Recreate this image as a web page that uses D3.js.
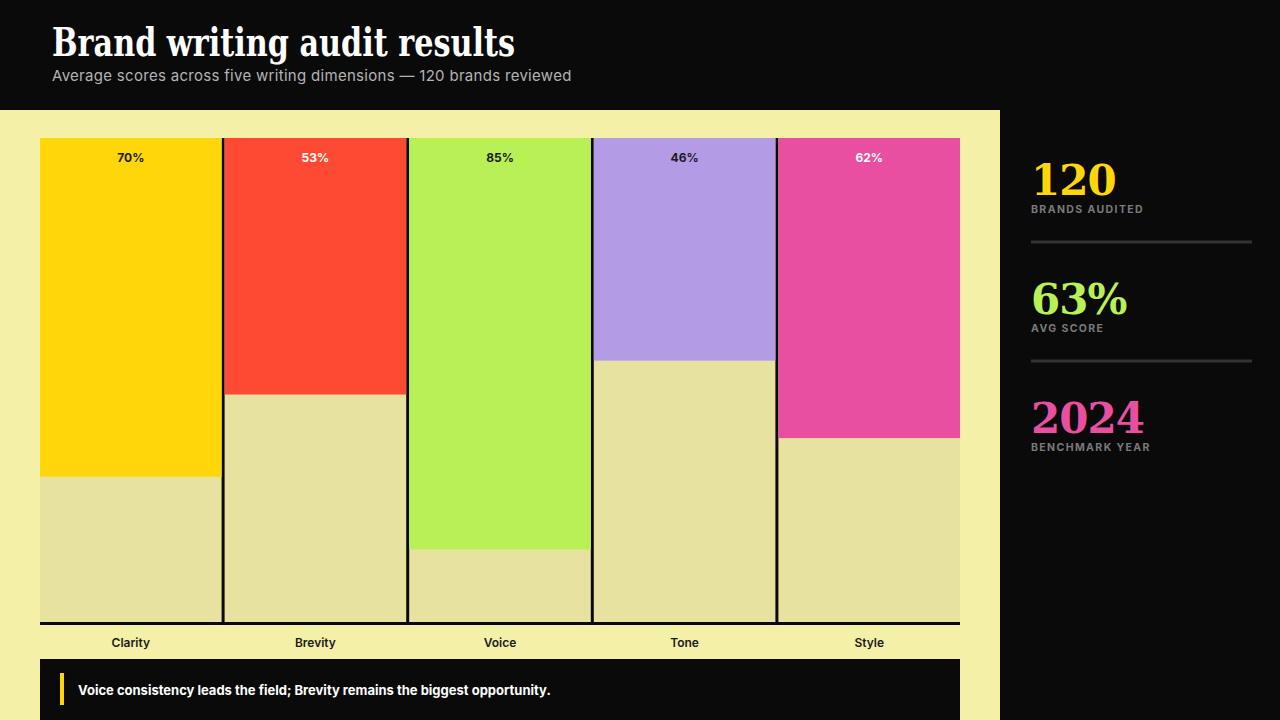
<!DOCTYPE html>
<html>
<head>
<meta charset="utf-8">
<script src="https://cdn.jsdelivr.net/npm/d3@7"></script>
<style>
  html, body { margin: 0; padding: 0; background: #0a0a0a; }
  svg { display: block; }
  .serif { font-family: "DejaVu Serif", "Liberation Serif", serif; font-weight: 700; }
  .sans { font-family: Inter, "Noto Sans", sans-serif; }
</style>
</head>
<body>
<svg id="chart" width="1280" height="720"></svg>
<script>
// Data
var DIMENSIONS = ["Clarity", "Brevity", "Voice", "Tone", "Style"];
var SCORES = [70, 53, 85, 46, 62];
var BAR_COLORS = ["#ffd60a", "#ff4a33", "#b8f055", "#b49be6", "#e84fa0"];
var LABEL_COLORS = ["#1a1a1a", "#ffffff", "#1a1a1a", "#1a1a1a", "#ffffff"];
var STAT_VALUES = ["120", "63%", "2024"];
var STAT_LABELS = ["BRANDS AUDITED", "AVG SCORE", "BENCHMARK YEAR"];
var STAT_COLORS = ["#ffd60a", "#b8f055", "#e84fa0"];

var WIDTH = 1280, HEIGHT = 720;
var PANEL_BG = "#f5f0a8", TRACK_BG = "#e8e2a0", INK = "#0a0a0a";
var PLOT_LEFT = 40, PLOT_RIGHT = 960, PLOT_TOP = 138, PLOT_BOTTOM = 622;
var COL_GAP = 3;

var svg = d3.select("#chart");

// Backgrounds
svg.append("rect").attr("x", 0).attr("y", 0).attr("width", WIDTH).attr("height", HEIGHT).attr("fill", INK);
svg.append("rect").attr("x", 0).attr("y", 110).attr("width", 1000).attr("height", HEIGHT - 110).attr("fill", PANEL_BG);

// Title
svg.append("text")
    .attr("class", "serif")
    .attr("x", 52).attr("y", 56)
    .attr("font-size", 40)
    .attr("textLength", 463)
    .attr("lengthAdjust", "spacingAndGlyphs")
    .attr("fill", "#ffffff")
    .text("Brand writing audit results");
svg.append("text")
    .attr("class", "sans")
    .attr("x", 52).attr("y", 81)
    .attr("font-size", 15)
    .attr("letter-spacing", 0.3)
    .attr("fill", "#b4b4b4")
    .text("Average scores across five writing dimensions \u2014 120 brands reviewed");

// Scales
var step = (PLOT_RIGHT - PLOT_LEFT + COL_GAP) / DIMENSIONS.length;
var xScale = d3.scaleBand()
    .domain(DIMENSIONS)
    .range([PLOT_LEFT, PLOT_RIGHT])
    .paddingInner(COL_GAP / step)
    .paddingOuter(0);
var hScale = d3.scaleLinear()
    .domain([0, 100])
    .range([0, PLOT_BOTTOM - PLOT_TOP]);

// Dark backing shows through the gaps as dividers
svg.append("rect")
    .attr("x", PLOT_LEFT).attr("y", PLOT_TOP)
    .attr("width", PLOT_RIGHT - PLOT_LEFT).attr("height", PLOT_BOTTOM - PLOT_TOP)
    .attr("fill", INK);

// Tracks
svg.selectAll(".track")
    .data(DIMENSIONS)
    .enter()
    .append("rect")
    .attr("class", "track")
    .attr("x", d => xScale(d))
    .attr("y", PLOT_TOP)
    .attr("width", xScale.bandwidth())
    .attr("height", PLOT_BOTTOM - PLOT_TOP)
    .attr("fill", TRACK_BG);

// Score fills hang from the top
svg.selectAll(".score")
    .data(SCORES)
    .enter()
    .append("rect")
    .attr("class", "score")
    .attr("x", (d, i) => xScale(DIMENSIONS[i]))
    .attr("y", PLOT_TOP)
    .attr("width", xScale.bandwidth())
    .attr("height", d => hScale(d))
    .attr("fill", (d, i) => BAR_COLORS[i]);

// Baseline
svg.append("rect")
    .attr("x", PLOT_LEFT).attr("y", PLOT_BOTTOM)
    .attr("width", PLOT_RIGHT - PLOT_LEFT).attr("height", 3)
    .attr("fill", INK);

// Value labels
svg.selectAll(".value-label")
    .data(SCORES)
    .enter()
    .append("text")
    .attr("class", "value-label sans")
    .attr("x", (d, i) => xScale(DIMENSIONS[i]) + xScale.bandwidth() / 2)
    .attr("y", PLOT_TOP + 24)
    .attr("text-anchor", "middle")
    .attr("font-size", 12)
    .attr("font-weight", 700)
    .attr("fill", (d, i) => LABEL_COLORS[i])
    .text(d => d + "%");

// Category labels
svg.selectAll(".cat-label")
    .data(DIMENSIONS)
    .enter()
    .append("text")
    .attr("class", "cat-label sans")
    .attr("x", d => xScale(d) + xScale.bandwidth() / 2)
    .attr("y", 647)
    .attr("text-anchor", "middle")
    .attr("font-size", 12)
    .attr("font-weight", 600)
    .attr("fill", "#1a1a1a")
    .text(d => d);

// Callout
svg.append("rect")
    .attr("x", PLOT_LEFT).attr("y", 659)
    .attr("width", PLOT_RIGHT - PLOT_LEFT).attr("height", HEIGHT - 659)
    .attr("fill", INK);
svg.append("rect")
    .attr("x", 60).attr("y", 673)
    .attr("width", 4).attr("height", 32)
    .attr("fill", "#ffd60a");
svg.append("text")
    .attr("class", "sans")
    .attr("x", 78).attr("y", 695)
    .attr("font-size", 13)
    .attr("font-weight", 700)
    .attr("fill", "#ffffff")
    .text("Voice consistency leads the field; Brevity remains the biggest opportunity.");

// Side stats
var STAT_TOP = [195, 314, 433];
STAT_VALUES.forEach(function (v, i) {
    svg.append("text")
        .attr("class", "serif")
        .attr("x", 1031).attr("y", STAT_TOP[i])
        .attr("font-size", 42)
        .attr("letter-spacing", -1)
        .attr("fill", STAT_COLORS[i])
        .text(v);
    svg.append("text")
        .attr("class", "sans")
        .attr("x", 1031).attr("y", STAT_TOP[i] + 18)
        .attr("font-size", 10.5)
        .attr("font-weight", 700)
        .attr("letter-spacing", 1.4)
        .attr("fill", "#7a7a7a")
        .text(STAT_LABELS[i]);
    if (i < STAT_VALUES.length - 1) {
        svg.append("line")
            .attr("x1", 1031).attr("x2", 1252)
            .attr("y1", STAT_TOP[i] + 47).attr("y2", STAT_TOP[i] + 47)
            .attr("stroke", "#333333")
            .attr("stroke-width", 3);
    }
});
</script>
</body>
</html>
